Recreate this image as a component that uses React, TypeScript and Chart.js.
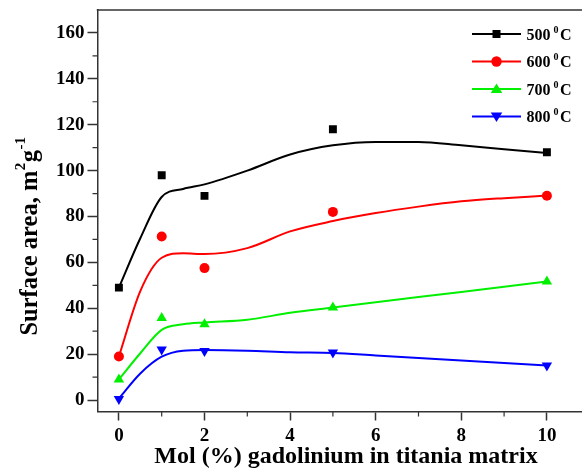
import React, { useEffect, useRef } from "react";
import { Chart, registerables } from "chart.js";

Chart.register(...registerables);

// measured data points (x = mol % Gd)
const MOL = [0, 1, 2, 5, 10];
const S500 = [49, 98, 89, 118, 108];
const S600 = [19, 71.3, 57.5, 82, 89];
const S700 = [9, 35.7, 33, 40.3, 51.7];
const S800 = [0.5, 22, 21.4, 20.7, 15];

// fitted (smoothed) curves
const FIT_X = [0, 0.5, 1, 1.5, 2, 3, 4, 5, 6, 7, 8, 9, 10];
const FIT500 = [49, 70.5, 88.5, 92, 94, 100, 107, 111, 112.5, 112.5, 111, 109.3, 107.7];
const FIT600 = [19, 47.5, 62, 64, 63.6, 66.2, 73.5, 78, 81.5, 84.3, 86.6, 88, 89.1];
const FIT700 = [9, 20.4, 30.6, 33, 33.8, 35, 38, 40.3, 42.6, 44.9, 47.1, 49.4, 51.7];
const FIT800 = [0.7, 11.6, 18.9, 21.5, 21.8, 21.5, 20.8, 20.5, 19.4, 18.3, 17.2, 16.1, 15];

const X_TICKS = [0, 2, 4, 6, 8, 10];
const X_MINOR = [1, 3, 5, 7, 9];
const Y_TICKS = [0, 20, 40, 60, 80, 100, 120, 140, 160];
const Y_MINOR = [10, 30, 50, 70, 90, 110, 130, 150];

const LEGEND_LABELS = ["500", "600", "700", "800"];
const COLORS = ["#000000", "#ff0000", "#00f000", "#0000ff"];
const STYLES = ["rect", "circle", "triangle", "triangleDown"];

const SERIF = '"Liberation Serif", "DejaVu Serif", serif';
const AXIS = "#333333";

function drawMarker(ctx: CanvasRenderingContext2D, style: string, x: number, y: number, r: number, color: string) {
  ctx.save();
  ctx.fillStyle = color;
  ctx.beginPath();
  if (style === "rect") {
    ctx.rect(x - r, y - r, 2 * r, 2 * r);
  } else if (style === "circle") {
    ctx.arc(x, y, r, 0, Math.PI * 2);
  } else if (style === "triangle") {
    ctx.moveTo(x, y - r * 1.05);
    ctx.lineTo(x + r * 1.1, y + r * 0.75);
    ctx.lineTo(x - r * 1.1, y + r * 0.75);
    ctx.closePath();
  } else {
    ctx.moveTo(x, y + r * 1.05);
    ctx.lineTo(x + r * 1.1, y - r * 0.75);
    ctx.lineTo(x - r * 1.1, y - r * 0.75);
    ctx.closePath();
  }
  ctx.fill();
  ctx.restore();
}

const decorPlugin = {
  id: "decor",
  afterDraw(chart: any) {
    const ctx: CanvasRenderingContext2D = chart.ctx;
    const { left, right, top, bottom } = chart.chartArea;
    const xs = chart.scales.x;
    const ys = chart.scales.y;
    ctx.save();
    // top frame line
    ctx.strokeStyle = AXIS;
    ctx.lineWidth = 1.5;
    ctx.beginPath();
    ctx.moveTo(left - 0.75, top);
    ctx.lineTo(right, top);
    ctx.stroke();
    // minor ticks
    ctx.lineWidth = 1.2;
    ctx.beginPath();
    X_MINOR.forEach((v) => {
      const px = xs.getPixelForValue(v);
      ctx.moveTo(px, bottom);
      ctx.lineTo(px, bottom + 5);
    });
    Y_MINOR.forEach((v) => {
      const py = ys.getPixelForValue(v);
      ctx.moveTo(left, py);
      ctx.lineTo(left - 5, py);
    });
    ctx.stroke();

    // legend
    const lx0 = 472, lx1 = 521, tx = 526.5;
    const rows = [34, 61.5, 89, 116.5];
    LEGEND_LABELS.forEach((lab, i) => {
      const y = rows[i];
      ctx.strokeStyle = COLORS[i];
      ctx.lineWidth = 2;
      ctx.beginPath();
      ctx.moveTo(lx0, y);
      ctx.lineTo(lx1, y);
      ctx.stroke();
      drawMarker(ctx, STYLES[i], (lx0 + lx1) / 2, y, i === 0 ? 4 : 5.2, COLORS[i]);
      ctx.fillStyle = "#000";
      ctx.textBaseline = "alphabetic";
      ctx.textAlign = "left";
      ctx.font = `bold 16px ${SERIF}`;
      const base = y + 5.5;
      let x = tx;
      ctx.fillText(lab, x, base);
      x += ctx.measureText(lab).width + 3;
      ctx.font = `bold 10px ${SERIF}`;
      ctx.fillText("0", x, base - 7);
      x += ctx.measureText("0").width + 1.5;
      ctx.font = `bold 16px ${SERIF}`;
      ctx.fillText("C", x, base);
    });

    // x title
    ctx.fillStyle = "#000";
    ctx.font = `bold 24px ${SERIF}`;
    ctx.textAlign = "center";
    ctx.textBaseline = "alphabetic";
    ctx.fillText("Mol (%) gadolinium in titania matrix", 346, 463);

    // y title (rotated, with superscripts)
    const F = 24.5;
    const parts: [string, boolean][] = [
      ["Surface area, m", false],
      ["2", true],
      ["g", false],
      ["-1", true],
    ];
    const fontFor = (sup: boolean) => (sup ? `bold ${Math.round(F * 0.6)}px ${SERIF}` : `bold ${F}px ${SERIF}`);
    let total = 0;
    parts.forEach(([t, s]) => {
      ctx.font = fontFor(s);
      total += ctx.measureText(t).width + (s ? 1 : 0);
    });
    ctx.save();
    ctx.translate(37, 236);
    ctx.rotate(-Math.PI / 2);
    ctx.textAlign = "left";
    let cx = -total / 2;
    parts.forEach(([t, s]) => {
      ctx.font = fontFor(s);
      ctx.fillText(t, cx + (s ? 0.5 : 0), s ? -F * 0.5 : 0);
      cx += ctx.measureText(t).width + (s ? 1 : 0);
    });
    ctx.restore();
    ctx.restore();
  },
};

function zeroPad(s: any) {
  s.paddingTop = 0;
  s.paddingBottom = 0;
  s.paddingLeft = 0;
  s.paddingRight = 0;
}

export default function App() {
  const ref = useRef<HTMLCanvasElement | null>(null);
  useEffect(() => {
    if (!ref.current) return;
    const pts = (ys: number[]) => MOL.map((x, i) => ({ x, y: ys[i] }));
    const fit = (ys: number[]) => FIT_X.map((x, i) => ({ x, y: ys[i] }));
    const markerSets = [S500, S600, S700, S800].map((d, i) => ({
      label: LEGEND_LABELS[i],
      data: pts(d),
      showLine: false,
      pointStyle: i === 3 ? "triangle" : STYLES[i],
      rotation: i === 3 ? 180 : 0,
      pointRadius: i === 0 ? 5.6 : i === 1 ? 5 : 6,
      backgroundColor: COLORS[i],
      borderColor: COLORS[i],
      borderWidth: 0,
    }));
    const fitSets = [FIT500, FIT600, FIT700, FIT800].map((d, i) => ({
      label: LEGEND_LABELS[i] + " fit",
      data: fit(d),
      showLine: true,
      pointRadius: 0,
      borderColor: COLORS[i],
      borderWidth: 2,
      cubicInterpolationMode: "monotone" as const,
      fill: false,
    }));
    const tickFont = { family: SERIF, size: 19, weight: "bold" as const };
    const chart = new Chart(ref.current, {
      type: "scatter",
      data: { datasets: [...markerSets, ...fitSets] as any },
      options: {
        animation: false,
        responsive: false,
        layout: { autoPadding: false, padding: { top: 10, right: 0, left: 0, bottom: 0 } },
        plugins: { legend: { display: false }, tooltip: { enabled: false } },
        scales: {
          x: {
            type: "linear",
            min: -0.5,
            max: 10.82,
            afterBuildTicks: (s: any) => {
              s.ticks = X_TICKS.map((v) => ({ value: v }));
            },
            afterFit: (s: any) => {
              s.height = 63.5;
              zeroPad(s);
            },
            ticks: { font: tickFont, color: "#000", padding: 4, maxRotation: 0 },
            grid: { drawOnChartArea: false, drawTicks: true, tickLength: 9, tickColor: AXIS, tickWidth: 1.5 },
            border: { display: true, color: AXIS, width: 1.5 },
          },
          y: {
            type: "linear",
            min: -5,
            max: 170,
            afterBuildTicks: (s: any) => {
              s.ticks = Y_TICKS.map((v) => ({ value: v }));
            },
            afterFit: (s: any) => {
              s.width = 97.5;
              zeroPad(s);
            },
            ticks: { font: tickFont, color: "#000", padding: 3 },
            grid: { drawOnChartArea: false, drawTicks: true, tickLength: 10, tickColor: AXIS, tickWidth: 1.5 },
            border: { display: true, color: AXIS, width: 1.5 },
          },
        },
      },
      plugins: [decorPlugin],
    });
    return () => chart.destroy();
  }, []);
  return (
    <div style={{ position: "fixed", left: 0, top: 0, width: 582, height: 475, background: "#fff" }}>
      <canvas ref={ref} width={582} height={475} style={{ display: "block" }} />
    </div>
  );
}
